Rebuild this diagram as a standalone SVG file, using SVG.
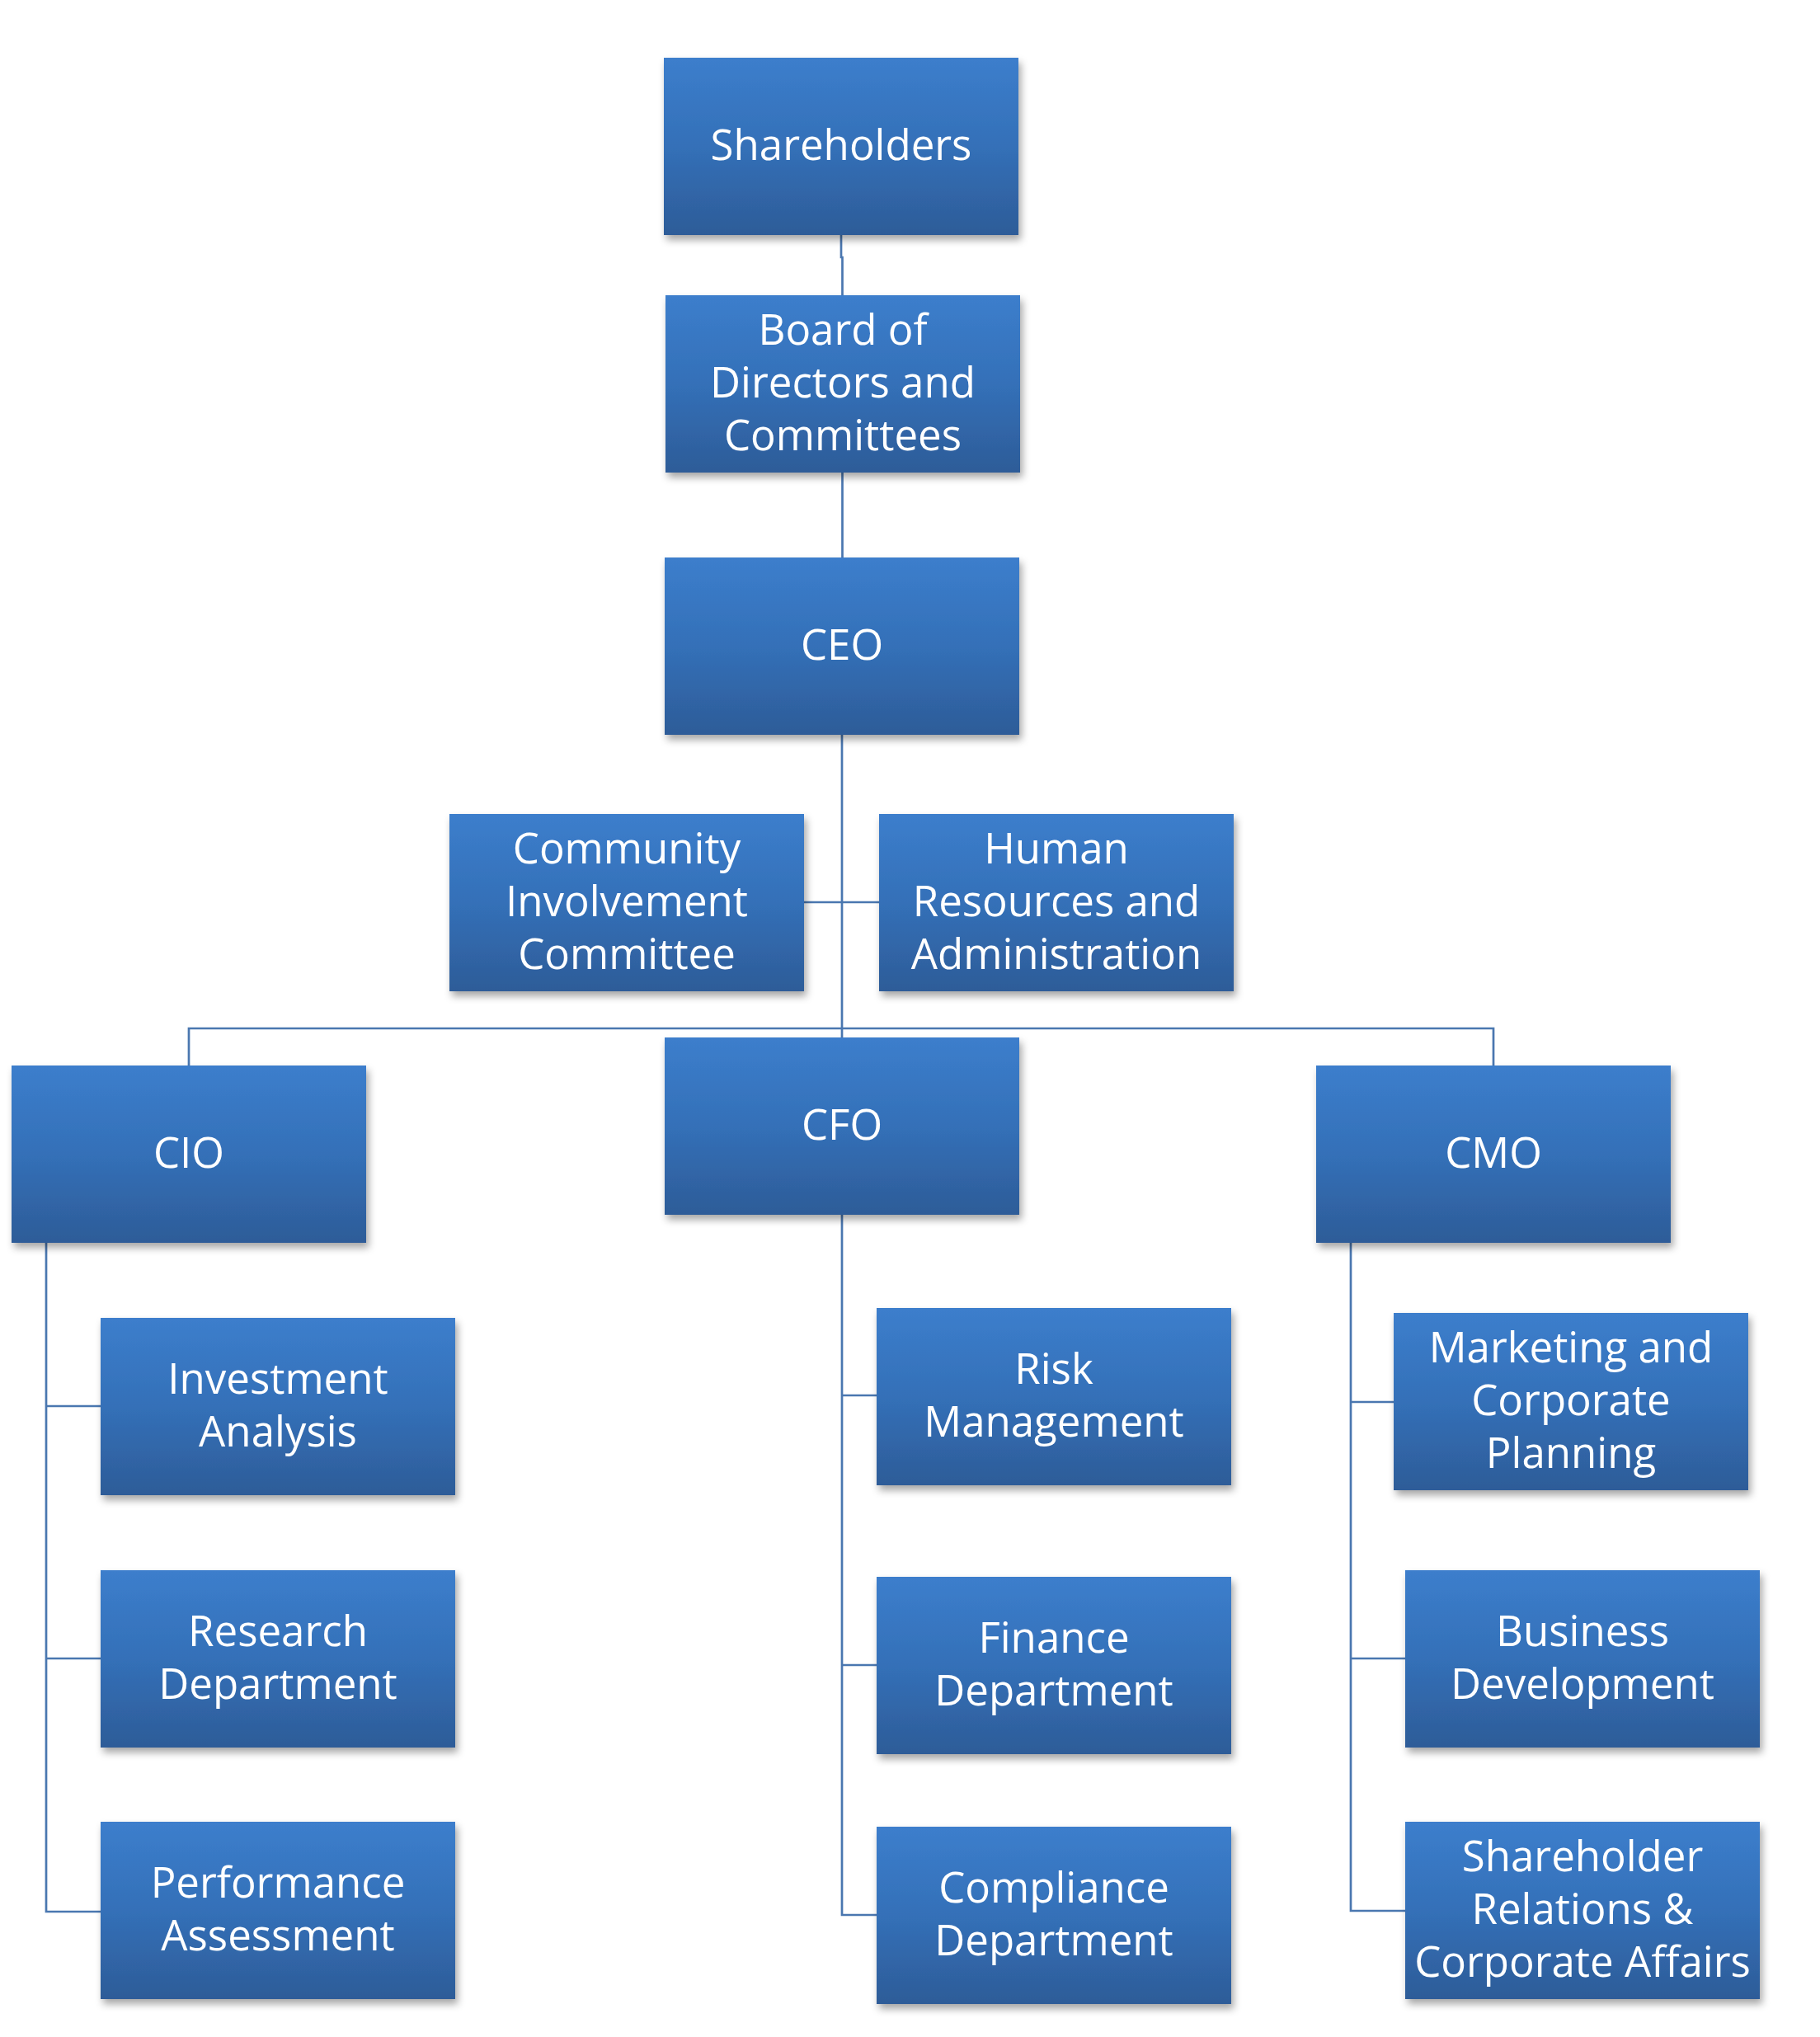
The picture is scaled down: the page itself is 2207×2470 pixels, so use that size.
<svg xmlns="http://www.w3.org/2000/svg" width="2207" height="2470" viewBox="0 0 2207 2470">
<defs>
<linearGradient id="g" x1="0" y1="0" x2="0" y2="1">
<stop offset="0" stop-color="#3c7ecc"/>
<stop offset="0.5" stop-color="#3470b8"/>
<stop offset="1" stop-color="#2d5c98"/>
</linearGradient>
<filter id="sh" x="-10%" y="-10%" width="125%" height="130%">
<feDropShadow dx="3" dy="6" stdDeviation="5" flood-color="#000" flood-opacity="0.35"/>
</filter>
<style>
.box{fill:url(#g);filter:url(#sh);}
.t{font-family:"Open Sans","Noto Sans",sans-serif;font-size:51px;fill:#ffffff;text-anchor:middle;}
.c{fill:none;stroke:#4a77b0;stroke-width:2.7;}
</style>
</defs>
<rect width="2207" height="2470" fill="#ffffff"/>
<g id="connectors">
<path class="c" d="M1020 285 V312 H1021.5 V358"/>
<path class="c" d="M1021.5 573 V676"/>
<path class="c" d="M1021 891 V1258"/>
<path class="c" d="M975 1094 H1066"/>
<path class="c" d="M229 1292 V1247 H1811 V1292"/>
<path class="c" d="M56 1507 V2318 H122 M56 1705 H122 M56 2011 H122"/>
<path class="c" d="M1021 1473 V2322 H1063 M1021 1692 H1063 M1021 2019 H1063"/>
<path class="c" d="M1638 1507 V2317 H1704 M1638 1700 H1690 M1638 2011 H1704"/>
</g>
<g id="shareholders"><rect class="box" x="805" y="70" width="430" height="215"/><text class="t" x="1020" y="194">Shareholders</text></g>
<g id="board"><rect class="box" x="807" y="358" width="430" height="215"/><text class="t" x="1022" y="418">Board of</text><text class="t" x="1022" y="482">Directors and</text><text class="t" x="1022" y="546">Committees</text></g>
<g id="ceo"><rect class="box" x="806" y="676" width="430" height="215"/><text class="t" x="1021" y="800">CEO</text></g>
<g id="community"><rect class="box" x="545" y="987" width="430" height="215"/><text class="t" x="760" y="1047">Community</text><text class="t" x="760" y="1111">Involvement</text><text class="t" x="760" y="1175">Committee</text></g>
<g id="hr"><rect class="box" x="1066" y="987" width="430" height="215"/><text class="t" x="1281" y="1047">Human</text><text class="t" x="1281" y="1111">Resources and</text><text class="t" x="1281" y="1175">Administration</text></g>
<g id="cio"><rect class="box" x="14" y="1292" width="430" height="215"/><text class="t" x="229" y="1416">CIO</text></g>
<g id="cfo"><rect class="box" x="806" y="1258" width="430" height="215"/><text class="t" x="1021" y="1382">CFO</text></g>
<g id="cmo"><rect class="box" x="1596" y="1292" width="430" height="215"/><text class="t" x="1811" y="1416">CMO</text></g>
<g id="investment"><rect class="box" x="122" y="1598" width="430" height="215"/><text class="t" x="337" y="1690">Investment</text><text class="t" x="337" y="1754">Analysis</text></g>
<g id="research"><rect class="box" x="122" y="1904" width="430" height="215"/><text class="t" x="337" y="1996">Research</text><text class="t" x="337" y="2060">Department</text></g>
<g id="performance"><rect class="box" x="122" y="2209" width="430" height="215"/><text class="t" x="337" y="2301">Performance</text><text class="t" x="337" y="2365">Assessment</text></g>
<g id="risk"><rect class="box" x="1063" y="1586" width="430" height="215"/><text class="t" x="1278" y="1678">Risk</text><text class="t" x="1278" y="1742">Management</text></g>
<g id="finance"><rect class="box" x="1063" y="1912" width="430" height="215"/><text class="t" x="1278" y="2004">Finance</text><text class="t" x="1278" y="2068">Department</text></g>
<g id="compliance"><rect class="box" x="1063" y="2215" width="430" height="215"/><text class="t" x="1278" y="2307">Compliance</text><text class="t" x="1278" y="2371">Department</text></g>
<g id="marketing"><rect class="box" x="1690" y="1592" width="430" height="215"/><text class="t" x="1905" y="1652">Marketing and</text><text class="t" x="1905" y="1716">Corporate</text><text class="t" x="1905" y="1780">Planning</text></g>
<g id="business"><rect class="box" x="1704" y="1904" width="430" height="215"/><text class="t" x="1919" y="1996">Business</text><text class="t" x="1919" y="2060">Development</text></g>
<g id="shareholder-relations"><rect class="box" x="1704" y="2209" width="430" height="215"/><text class="t" x="1919" y="2269">Shareholder</text><text class="t" x="1919" y="2333">Relations &amp;</text><text class="t" x="1919" y="2397">Corporate Affairs</text></g>
</svg>
